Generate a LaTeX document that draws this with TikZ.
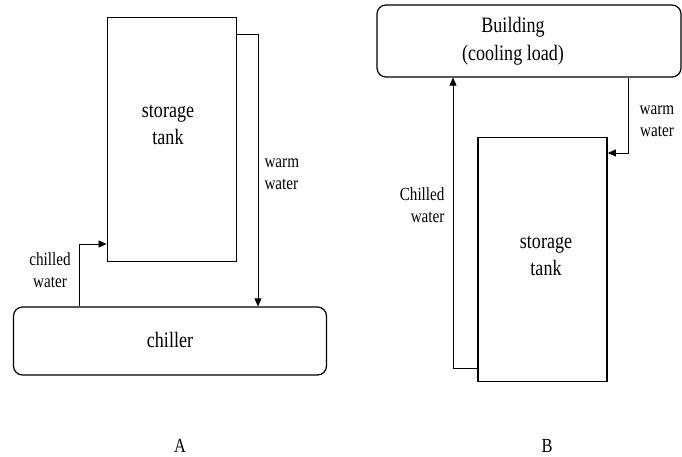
\documentclass[tikz,border=0pt]{standalone}
\usepackage{fontspec}
\setmainfont{Liberation Serif}[FakeStretch=0.82]
\usetikzlibrary{positioning,arrows.meta}

\begin{document}
\begin{tikzpicture}[x=1pt,y=-1pt,
	tank/.style={draw,line width=1.8pt,minimum width=129pt,minimum height=244pt,inner sep=0pt},
	unit/.style={draw,line width=1.2pt,rounded corners=9pt,inner sep=0pt},
	flow/.style={line width=0.7pt,-{Triangle[length=8pt,width=7pt]}},
	big/.style={align=center,font=\fontsize{22}{27}\selectfont},
	small/.style={align=center,font=\fontsize{18.5}{22.5}\selectfont}]
	\useasboundingbox (0,0) rectangle (682,456);
	% A: chiller charges the tank
	\node[tank] (tankA) at (172,139.5) {};
	\node[big] (tankAtext) at (168,125) {storage\\tank};
	\node[unit,minimum width=313pt,minimum height=68pt] (chillerA) at (170,341) {};
	\node[big] (chillerAtext) at (170,340) {chiller};
	\coordinate (warmA) at (258,34);
	\coordinate (chillA) at (79,244);
	\draw[flow] (tankA.east |- warmA) -- (warmA) -- (warmA |- chillerA.north);
	\draw[flow] (chillA |- chillerA.north) -- (chillA) -- (tankA.west |- chillA);
	\node[small,align=left,anchor=west] (warmAlabel) at (261,174) {warm\\water};
	\node[small] (chillAlabel) at (50,270) {chilled\\water};
	\node[font=\fontsize{20}{20}\selectfont] (labelA) at (180,446) {A};
	% B: tank discharges to the building
	\node[unit,minimum width=304pt,minimum height=72pt] (buildB) at (529,41) {};
	\node[big,font=\fontsize{22}{28}\selectfont] (buildBtext) at (513,41) {Building\\(cooling load)};
	\node[tank] (tankB) at (542.5,259.5) {};
	\node[big] (tankBtext) at (546,256) {storage\\tank};
	\coordinate (warmB) at (628,153);
	\coordinate (chillB) at (453,368);
	\draw[flow] (warmB |- buildB.south) -- (warmB) -- (tankB.east |- warmB);
	\draw[flow] (tankB.west |- chillB) -- (chillB) -- (chillB |- buildB.south);
	\node[small] (warmBlabel) at (657,121) {warm\\water};
	\node[small,align=right,anchor=east] (chillBlabel) at (448,205) {Chilled\\water};
	\node[font=\fontsize{20}{20}\selectfont] (labelB) at (547,446) {B};
\end{tikzpicture}
\end{document}
